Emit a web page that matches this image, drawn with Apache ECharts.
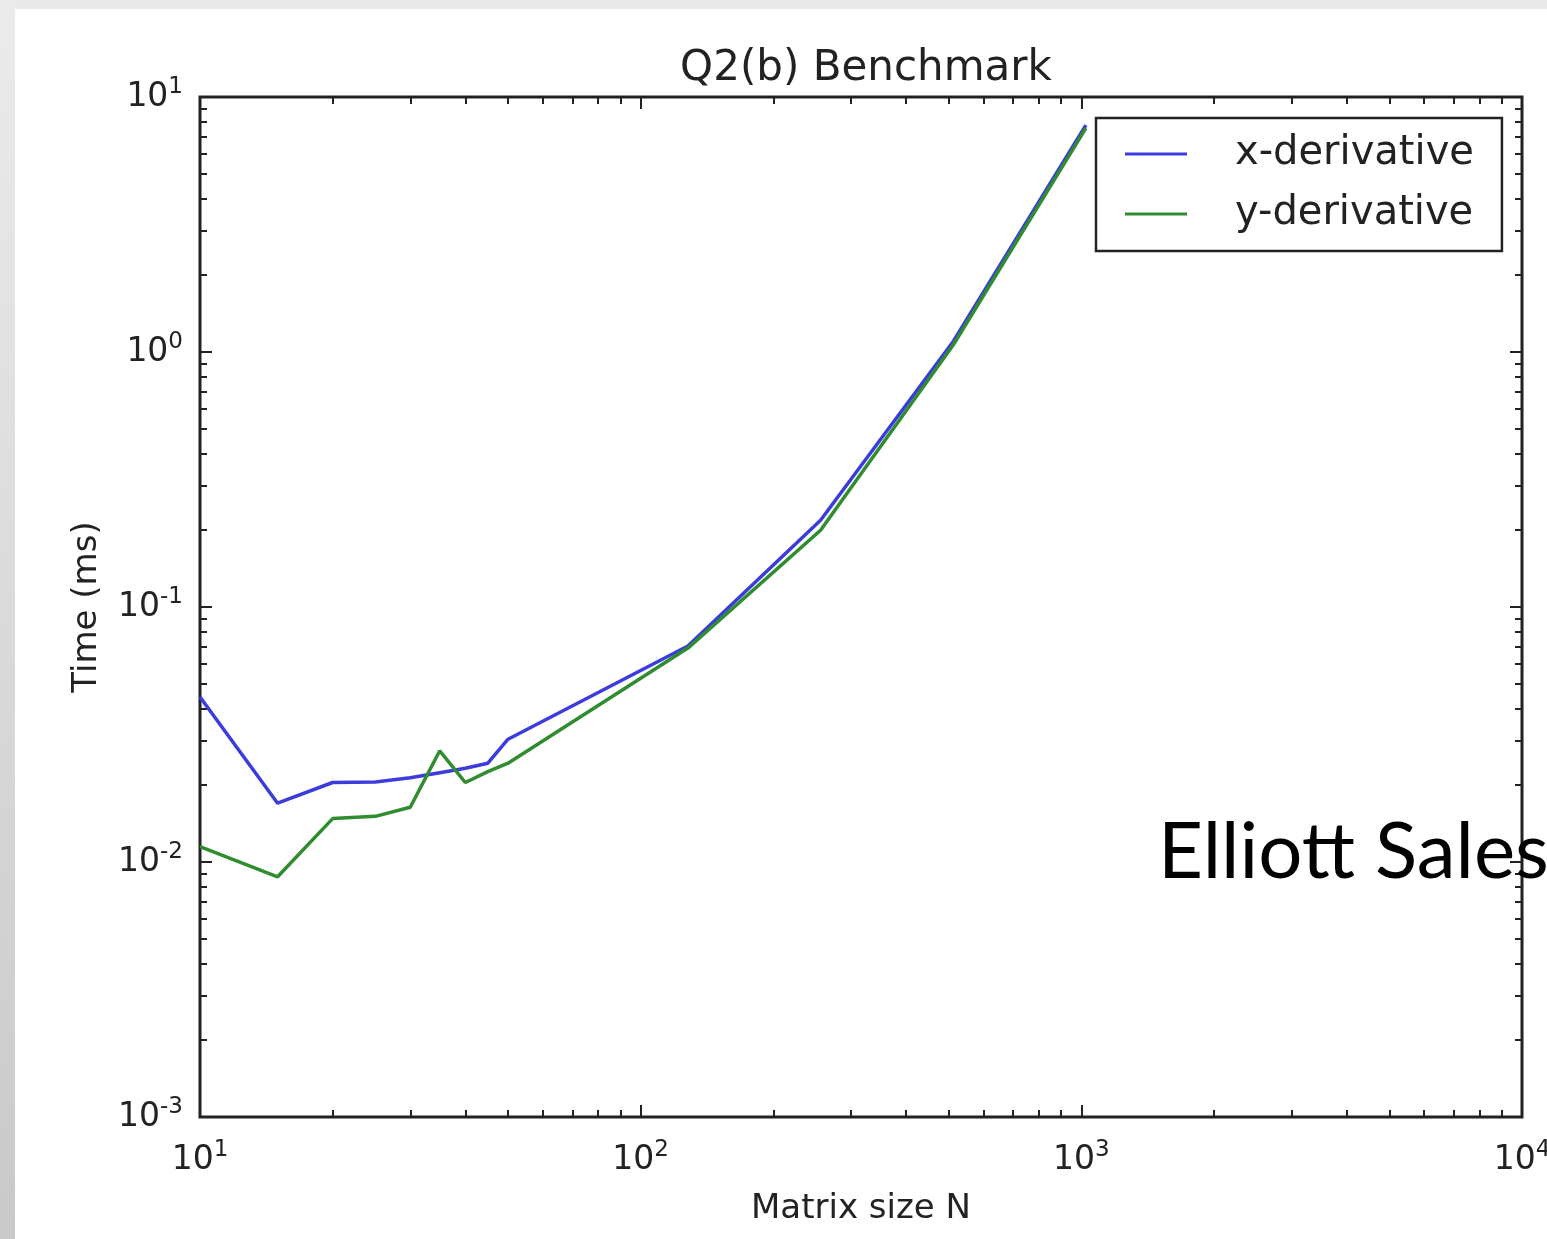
<!DOCTYPE html>
<html>
<head>
<meta charset="utf-8">
<title>Q2(b) Benchmark</title>
<script src="https://cdn.jsdelivr.net/npm/echarts@6/dist/echarts.min.js"></script>
<style>
html, body { margin: 0; padding: 0; background: #fff; }
#chart { width: 1547px; height: 1239px; }
</style>
</head>
<body>
<div id="chart"></div>
<script>
// matrix sizes N and timings (ms)
var sizes = [10, 15, 20, 25, 30, 35, 40, 45, 50, 128, 256, 512, 1024];
var xDeriv = [0.0444, 0.0170, 0.0205, 0.0206, 0.0214, 0.0224, 0.0233, 0.0244, 0.0303, 0.0703, 0.219, 1.10, 7.76];
var yDeriv = [0.0115, 0.00875, 0.0148, 0.0151, 0.0164, 0.0273, 0.0205, 0.0226, 0.0244, 0.069, 0.200, 1.065, 7.55];
var seriesNames = ['x-derivative', 'y-derivative'];

// tick values
var xMajor = [10, 100, 1000, 10000];
var yMajor = [0.001, 0.01, 0.1, 1, 10];
var minorSteps = [2, 3, 4, 5, 6, 7, 8, 9];

function minorTicks(major) {
    var rs = [];
    for (var i = 0; i < major.length - 1; i++) {
        for (var j = 0; j < minorSteps.length; j++) {
            rs.push(+(major[i] * minorSteps[j]).toPrecision(6));
        }
    }
    return rs;
}
var xMinor = minorTicks(xMajor);
var yMinor = minorTicks(yMajor);

var font = 'DejaVu Sans';
var ink = '#222';

function powLabel(v) {
    var e = Math.round(Math.log10(v));
    return '{b|10}{s|' + e + '}';
}
var powRich = {
    b: { fontFamily: font, fontSize: 33, color: ink },
    s: { fontFamily: font, fontSize: 23, color: ink, padding: [0, 0, 20, 0] }
};

// one log axis; major / minor / mirrored copies share the same scale
function logAxis(pos, min, max, ticks, len, labels) {
    return {
        type: 'log',
        logBase: 10,
        min: min,
        max: max,
        position: pos,
        axisLine: { show: false },
        splitLine: { show: false },
        minorTick: { show: false },
        axisTick: {
            show: true,
            inside: true,
            length: len,
            customValues: ticks,
            lineStyle: { color: ink, width: 2 }
        },
        axisLabel: labels ? {
            customValues: ticks,
            formatter: powLabel,
            rich: powRich,
            margin: pos == 'left' ? 17 : 22
        } : { show: false }
    };
}

var xAxes = [
    logAxis('bottom', 10, 10000, xMajor, 12, true),
    logAxis('bottom', 10, 10000, xMinor, 7, false),
    logAxis('top', 10, 10000, xMajor, 12, false),
    logAxis('top', 10, 10000, xMinor, 7, false)
];
xAxes[0].name = 'Matrix size N';
xAxes[0].nameLocation = 'middle';
xAxes[0].nameGap = 75;
xAxes[0].nameTextStyle = { fontFamily: font, fontSize: 34, color: ink };

var yAxes = [
    logAxis('left', 0.001, 10, yMajor, 12, true),
    logAxis('left', 0.001, 10, yMinor, 7, false),
    logAxis('right', 0.001, 10, yMajor, 12, false),
    logAxis('right', 0.001, 10, yMinor, 7, false)
];
yAxes[0].name = 'Time (ms)';
yAxes[0].nameLocation = 'middle';
yAxes[0].nameGap = 96;
yAxes[0].nameRotate = 90;
yAxes[0].nameTextStyle = { fontFamily: font, fontSize: 34, color: ink };

var myChart = echarts.init(document.getElementById('chart'));
myChart.setOption({
    animation: false,
    backgroundColor: '#fff',
    title: {
        text: 'Q2(b) Benchmark',
        left: 861,
        textAlign: 'center',
        top: 43,
        textStyle: { fontFamily: font, fontSize: 42, fontWeight: 'normal', color: ink }
    },
    grid: {
        left: 200, right: 25, top: 97, bottom: 122,
        outerBoundsMode: 'none',
        show: true,
        backgroundColor: '#fff',
        borderColor: ink,
        borderWidth: 3
    },
    legend: {
        data: seriesNames,
        orient: 'vertical',
        left: 1096,
        top: 118,
        padding: [16, 28, 17, 29],
        itemGap: 20,
        itemWidth: 62,
        itemHeight: 3,
        icon: 'rect',
        borderColor: ink,
        borderWidth: 2.5,
        backgroundColor: '#fff',
        textStyle: { fontFamily: font, fontSize: 40, color: ink, lineHeight: 40, padding: [0, 0, 0, 43] }
    },
    xAxis: xAxes,
    yAxis: yAxes,
    series: [{
        name: seriesNames[0],
        type: 'line',
        symbol: 'none',
        data: sizes.map(function(n, i) { return [n, xDeriv[i]]; }),
        itemStyle: { color: '#3c3cdc' },
        lineStyle: { color: '#3c3cdc', width: 3.5 }
    }, {
        name: seriesNames[1],
        type: 'line',
        symbol: 'none',
        data: sizes.map(function(n, i) { return [n, yDeriv[i]]; }),
        itemStyle: { color: '#2f8c2f' },
        lineStyle: { color: '#2f8c2f', width: 3.5 }
    }],
    graphic: [{
        type: 'rect',
        z: -10,
        shape: { x: 0, y: 0, width: 1547, height: 9 },
        style: { fill: '#e9e9e9' }
    }, {
        type: 'rect',
        z: -10,
        shape: { x: 0, y: 0, width: 15, height: 1239 },
        style: {
            fill: new echarts.graphic.LinearGradient(0, 0, 0, 1, [
                { offset: 0, color: '#ebebeb' },
                { offset: 1, color: '#c9c9c9' }
            ])
        }
    }, {
        type: 'text',
        z: 100,
        left: 1158,
        top: 814,
        style: {
            text: 'Elliott Sales',
            fontFamily: 'Lato',
            fontSize: 78,
            fill: '#000'
        }
    }]
});
</script>
</body>
</html>
